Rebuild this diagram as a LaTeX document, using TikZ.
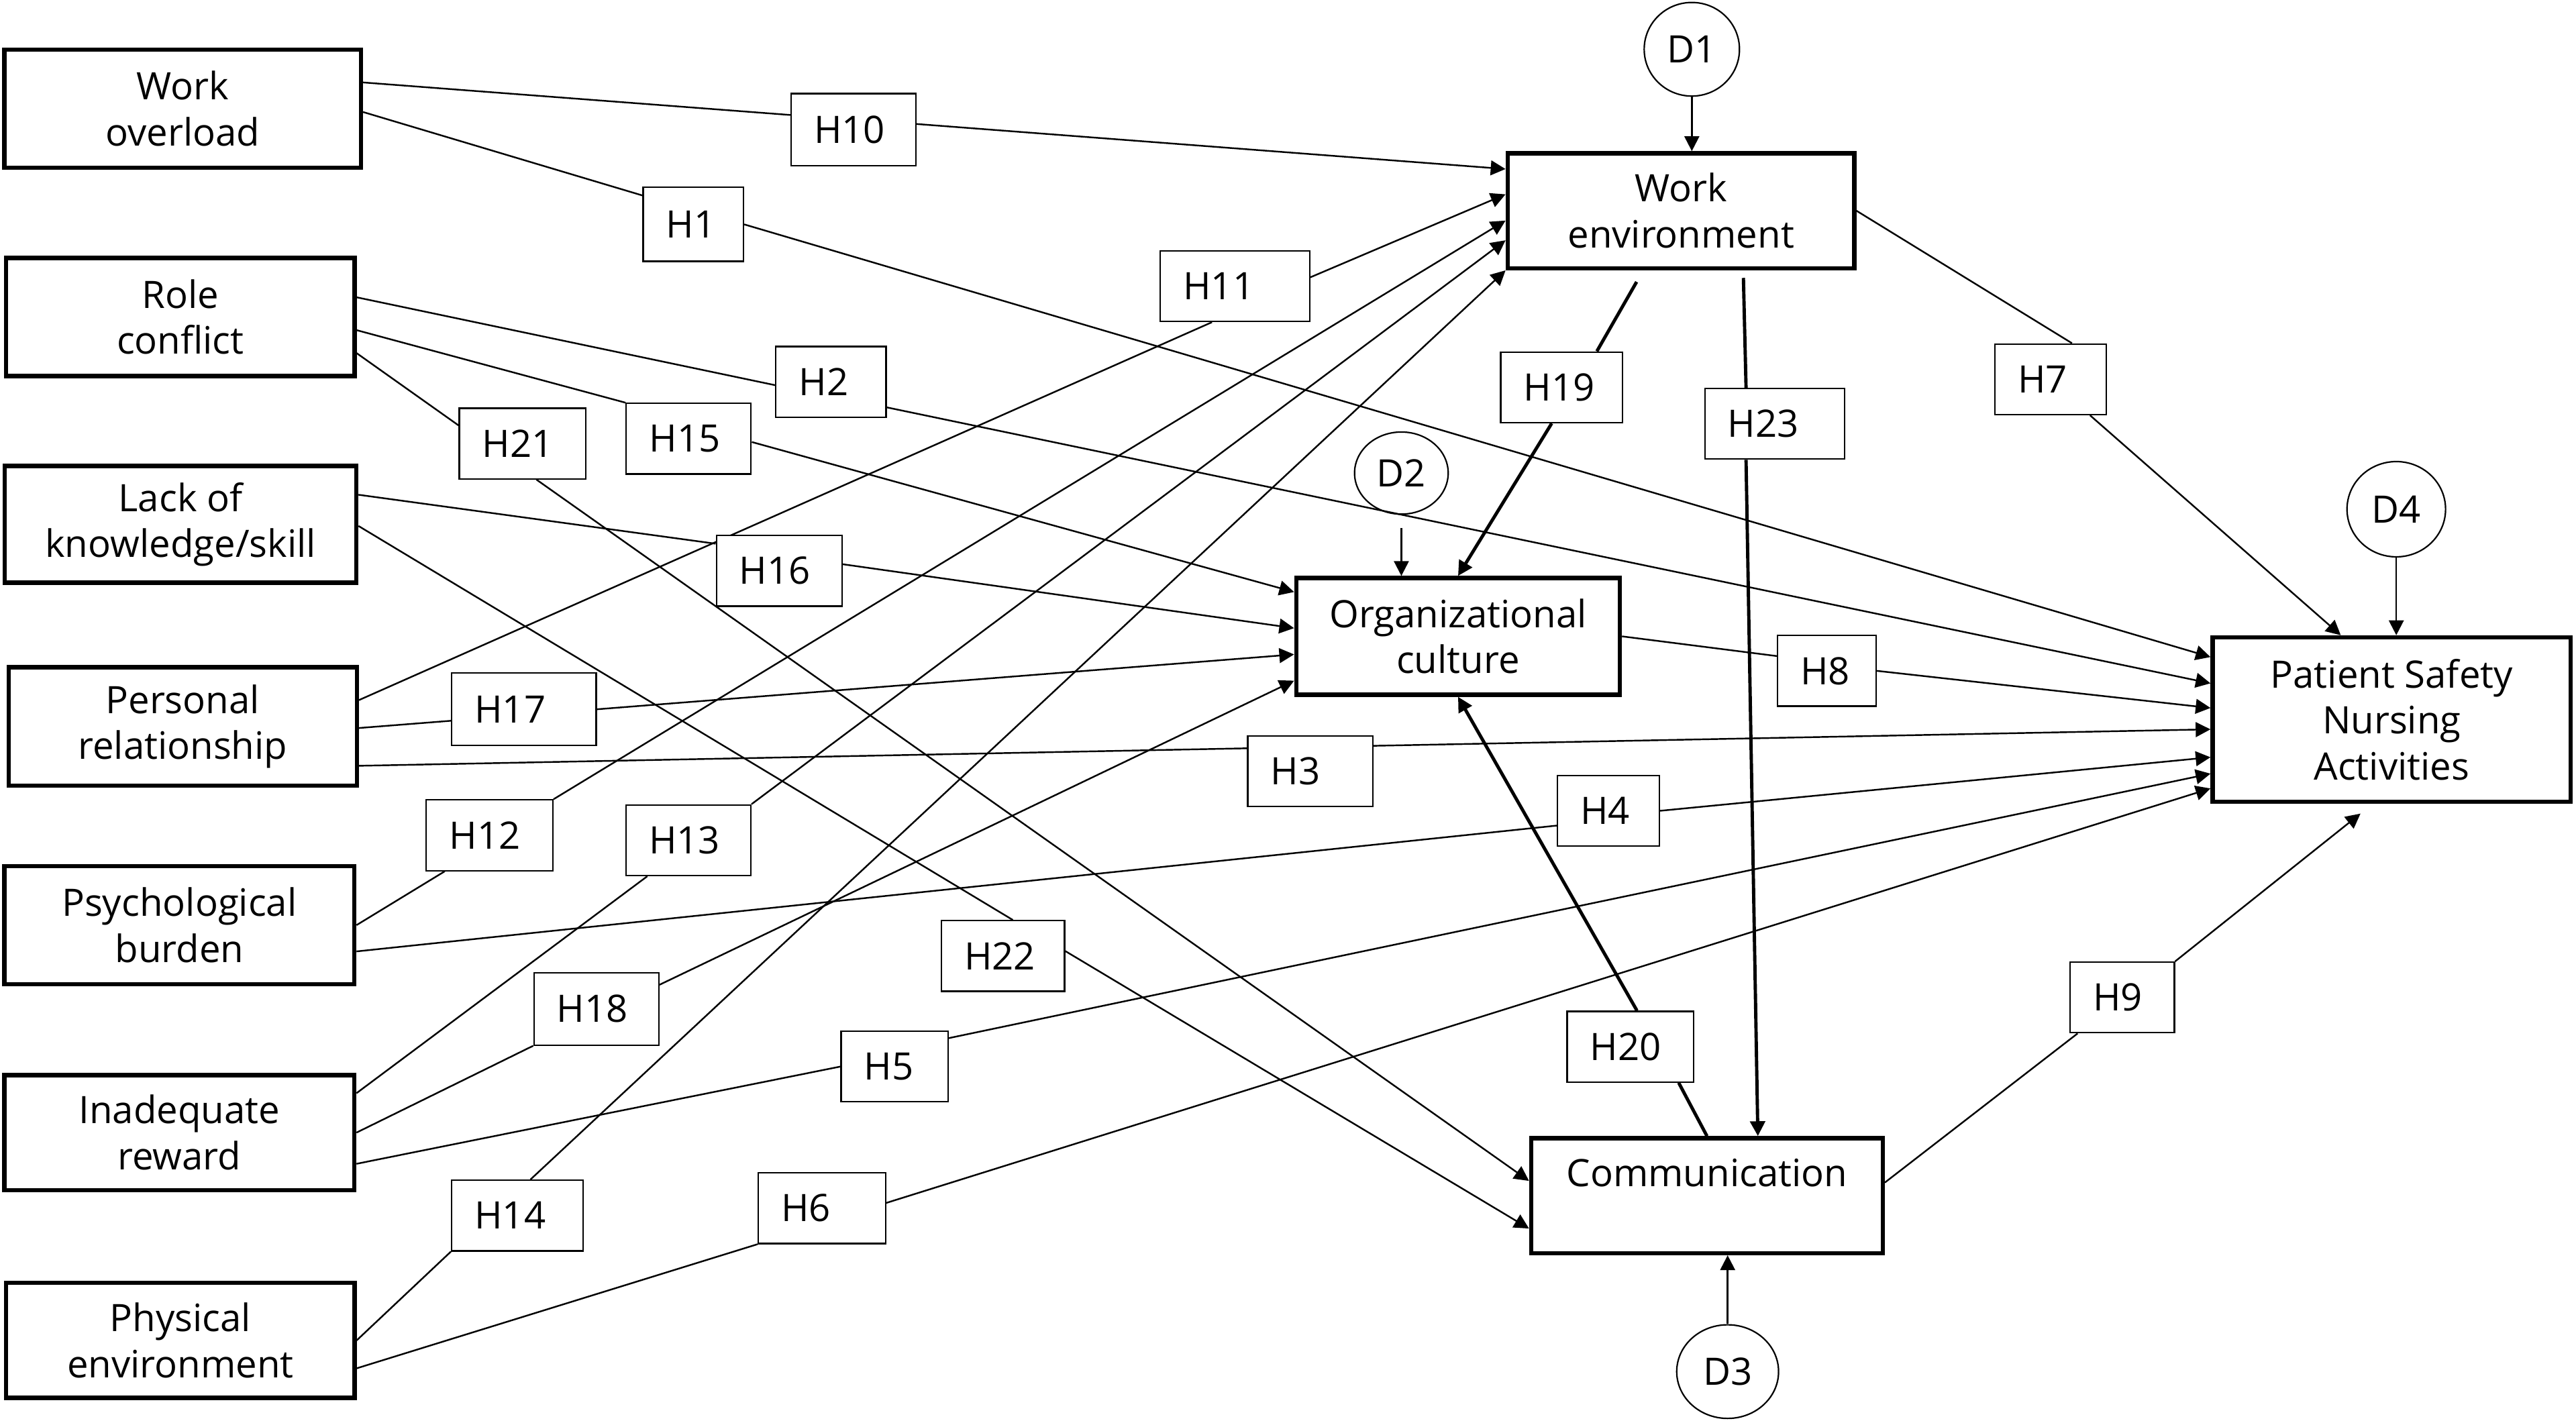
\documentclass[tikz,border=0pt]{standalone}
\usepackage{fontspec}
\setmainfont{Open Sans}
\usetikzlibrary{arrows.meta,calc,shapes.geometric,backgrounds}
\newcommand\figfont{\fontsize{11.5}{14}\selectfont}
\begin{document}
\begin{tikzpicture}[x=0.5pt,y=-0.5pt,
 big/.style={draw, line width=1.3pt, inner sep=0pt, align=center, font=\figfont},
 lab/.style={draw, fill=white, line width=0.45pt, inner xsep=7pt, inner ysep=0pt, minimum height=21.5pt, align=left, font=\figfont},
 dn/.style={draw, ellipse, line width=0.45pt, inner sep=0pt, font=\figfont},
 con/.style={line width=0.5pt},
 tk/.style={line width=1pt},
 arr/.style={-{Triangle[length=4.5pt,width=4.5pt]}}
]
\useasboundingbox (0,0) rectangle (1568,865);
% main boxes
\node[big, minimum width=108.5pt, minimum height=36pt] (WO) at (111.2,66.2) {Work\\overload};
\node[big, minimum width=106pt, minimum height=36pt] (RC) at (109.8,193) {Role\\conflict};
\node[big, minimum width=107pt, minimum height=35.5pt] (LK) at (109.9,319.2) {Lack of\\knowledge/skill};
\node[big, minimum width=106pt, minimum height=36pt] (PR) at (111.2,442.2) {Personal\\relationship};
\node[big, minimum width=106.5pt, minimum height=36pt] (PB) at (109.2,563.2) {Psychological\\burden};
\node[big, minimum width=106.5pt, minimum height=35pt] (IR) at (109.2,689.5) {Inadequate\\reward};
\node[big, minimum width=106pt, minimum height=35pt] (PE) at (109.8,816) {Physical\\environment};
\node[big, minimum width=105.5pt, minimum height=35pt] (WE) at (1023.2,128.3) {Work\\environment};
\node[big, minimum width=98.5pt, minimum height=35.5pt] (OC) at (887.5,387.4) {Organizational\\culture};
\node[big, minimum width=107pt, minimum height=35pt] (Comm) at (1039,727.9) {Communication\\\phantom{C}};
\node[big, minimum width=109pt, minimum height=50pt] (Pat) at (1455.8,438) {Patient Safety\\Nursing\\Activities};
% disturbances
\node[dn, minimum width=29pt, minimum height=28.5pt] (D1) at (1029.8,30) {D1};
\node[dn, minimum width=28.5pt, minimum height=25pt] (D2) at (853,288) {D2};
\node[dn, minimum width=31pt, minimum height=28.5pt] (D3) at (1051.6,835) {D3};
\node[dn, minimum width=30pt, minimum height=29pt] (D4) at (1458.6,310) {D4};
% labels
\node[lab, text width=24pt, minimum height=22pt] (H10) at (519.5,79) {H10};
\node[lab, text width=16.5pt, minimum height=22.5pt] (H1) at (422,136.6) {H1};
\node[lab, text width=31.5pt] (H11) at (751.7,174.2) {H11};
\node[lab, text width=19.5pt] (H2) at (505.8,232.5) {H2};
\node[lab, text width=24.5pt] (H21) at (318.1,270) {H21};
\node[lab, text width=24pt] (H15) at (419.2,267.1) {H15};
\node[lab, text width=24.25pt] (H16) at (474.3,347.5) {H16};
\node[lab, text width=23pt] (H19) at (950.5,235.8) {H19};
\node[lab, text width=28.5pt] (H23) at (1080.2,258) {H23};
\node[lab, text width=20pt] (H7) at (1248.2,230.9) {H7};
\node[lab, text width=30pt, minimum height=22pt] (H17) at (318.9,431.8) {H17};
\node[lab, text width=16pt] (H8) at (1112,408.4) {H8};
\node[lab, text width=24pt] (H3) at (797.5,469.5) {H3};
\node[lab, text width=17pt] (H4) at (979,493.6) {H4};
\node[lab, text width=24.5pt] (H12) at (298,508.5) {H12};
\node[lab, text width=24pt] (H13) at (419,511.5) {H13};
\node[lab, text width=23.5pt] (H22) at (610.5,582) {H22};
\node[lab, text width=24pt, minimum height=22pt] (H18) at (363,614.2) {H18};
\node[lab, text width=18.5pt] (H5) at (544.5,649.3) {H5};
\node[lab, text width=24.5pt] (H20) at (992.4,637.2) {H20};
\node[lab, text width=17.75pt] (H9) at (1291.8,607.2) {H9};
\node[lab, text width=26pt] (H14) at (314.9,740) {H14};
\node[lab, text width=24.75pt] (H6) at (500.3,735.5) {H6};
\begin{pgfonlayer}{background}
% work overload
\draw[con] ($(WO.east)+(0,-16)$) -- ($(H10.west)+(0,-9)$);
\draw[con,arr] ($(H10.east)+(0,-3.5)$) -- ($(WE.west)+(0,-25.4)$);
\draw[con] ($(WO.east)+(0,2)$) -- ($(H1.west)+(0,-17.6)$);
\draw[con,arr] (H1.east) -- ($(Pat.west)+(0,-38)$);
% role conflict
\draw[con] ($(RC.east)+(0,-12)$) -- ($(H2.west)+(0,2)$);
\draw[con,arr] ($(H2.east)+(0,15.5)$) -- ($(Pat.west)+(0,-22)$);
\draw[con] ($(RC.east)+(0,8)$) -- (H15.north west);
\draw[con,arr] ($(H15.east)+(0,2)$) -- ($(OC.west)+(0,-27)$);
\draw[con] ($(RC.east)+(0,22)$) -- ($(H21.west)+(0,-11)$);
\draw[con,arr] ($(H21.south)+(8.4,0)$) -- ($(Comm.west)+(0,-9)$);
% lack of knowledge
\draw[con] ($(LK.east)+(0,-18)$) -- ($(H16.west)+(0,-16.5)$);
\draw[con,arr] ($(H16.east)+(0,-4)$) -- ($(OC.west)+(0,-5)$);
\draw[con] ($(LK.east)+(0,1)$) -- ($(H22.north)+(6,0)$);
\draw[con,arr] ($(H22.east)+(0,-3)$) -- ($(Comm.west)+(0,20)$);
% personal relationship
\draw[con] ($(PR.east)+(0,-16)$) -- ($(H11.south)+(-14,0)$);
\draw[con,arr] ($(H11.east)+(0,-5.4)$) -- ($(WE.west)+(0,-10)$);
\draw[con] ($(PR.east)+(0,1)$) -- ($(H17.west)+(0,7)$);
\draw[con,arr] (H17.east) -- ($(OC.west)+(0,11)$);
\draw[con,arr] ($(PR.east)+(0,24)$) -- ($(Pat.west)+(0,6)$);
% psychological burden
\draw[con] (PB.east) -- ($(H12.south)+(-27.3,0)$);
\draw[con,arr] (H12.north east) -- ($(WE.west)+(0,6)$);
\draw[con] ($(PB.east)+(0,16)$) -- ($(H4.west)+(0,9)$);
\draw[con,arr] (H4.east) -- ($(Pat.west)+(0,23)$);
% inadequate reward
\draw[con] ($(IR.east)+(0,-24)$) -- ($(H13.south)+(-25,0)$);
\draw[con,arr] (H13.north east) -- ($(WE.west)+(0,18)$);
\draw[con] (IR.east) -- (H18.south west);
\draw[con,arr] ($(H18.east)+(0,-14.7)$) -- ($(OC.west)+(0,27)$);
\draw[con] ($(IR.east)+(0,19)$) -- (H5.west);
\draw[con,arr] ($(H5.east)+(0,-17.3)$) -- ($(Pat.west)+(0,33)$);
% physical environment
\draw[con] (PE.east) -- (H14.south west);
\draw[con,arr] ($(H14.north)+(8,0)$) -- (WE.south west);
\draw[con] ($(PE.east)+(0,17)$) -- (H6.south west);
\draw[con,arr] ($(H6.east)+(0,-3.2)$) -- ($(Pat.west)+(0,42)$);
% mediators
\draw[con] (OC.east) -- ($(H8.west)+(0,-9)$);
\draw[con,arr] (H8.east) -- ($(Pat.west)+(0,-7)$);
\draw[tk] ($(WE.south)+(-27,7)$) -- ($(H19.north)+(21.5,0)$);
\draw[tk,arr] ($(H19.south)+(-6,0)$) -- (OC.north);
\draw[tk] ($(WE.south)+(38,4.6)$) -- ($(H23.north)+(-17.4,0)$);
\draw[tk,arr] ($(H23.south)+(-17.4,0)$) -- ($(Comm.north)+(31,0)$);
\draw[tk] (Comm.north) -- ($(H20.south)+(29.4,0)$);
\draw[tk,arr] ($(H20.north)+(4,0)$) -- (OC.south);
\draw[con] (WE.east) -- ($(H7.north)+(13,0)$);
\draw[con,arr] ($(H7.south)+(24,0)$) -- ($(Pat.north)+(-31,0)$);
\draw[con] ($(Comm.east)+(0,-8)$) -- ($(H9.south west)+(5,0)$);
\draw[con,arr] (H9.north east) -- ($(Pat.south)+(-19,6)$);
% disturbances
\draw[con,arr] (D1.south) -- (D1.south |- WE.north);
\draw[con,arr] ([yshift=-4pt]D2.south) -- (D2.south |- OC.north);
\draw[con,arr] (D3.north) -- (D3.north |- Comm.south);
\draw[con,arr] (D4.south) -- (D4.south |- Pat.north);
\end{pgfonlayer}
\end{tikzpicture}
\end{document}
